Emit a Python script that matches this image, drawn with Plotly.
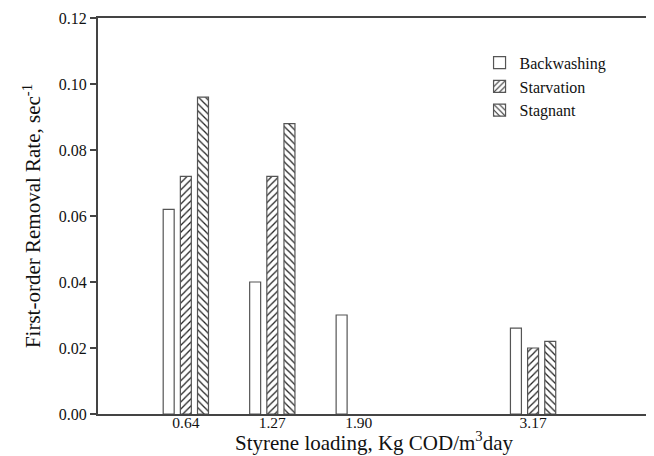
import plotly.graph_objects as go

loadings = [0.64, 1.27, 1.90, 3.17]
tick_labels = ["0.64", "1.27", "1.90", "3.17"]
backwashing = [0.062, 0.040, 0.030, 0.026]
starvation = [0.072, 0.072, None, 0.020]
stagnant = [0.096, 0.088, None, 0.022]

series = [
    ("Backwashing", backwashing, "", -0.125),
    ("Starvation", starvation, "/", 0.0),
    ("Stagnant", stagnant, "\\", 0.125),
]

BAR_W = 0.08
FONT = "Liberation Serif"

fig = go.Figure()
for name, vals, shape, shift in series:
    fig.add_trace(go.Bar(
        x=loadings, y=vals, name=name,
        width=BAR_W, offset=shift - BAR_W / 2,
        marker=dict(
            color="white",
            line=dict(color="#555555", width=1.2),
            pattern=dict(shape=shape, fgcolor="#222222", bgcolor="white",
                         size=5, solidity=0.25, fillmode="replace"),
        ),
    ))

# page body has an 8px default margin, so the figure is sized to fit the window
fig.update_layout(
    width=646, height=448,
    margin=dict(l=90, r=7, t=10, b=42),
    paper_bgcolor="white", plot_bgcolor="white",
    barmode="overlay",
    font=dict(family=FONT, size=16, color="#111111"),
    showlegend=True,
    legend=dict(x=0.695, y=0.93, xanchor="left", yanchor="top",
                bgcolor="rgba(0,0,0,0)", font=dict(size=16, family=FONT),
                tracegroupgap=0),
    xaxis=dict(
        range=[0, 4], tickvals=loadings, ticktext=tick_labels,
        ticks="", showgrid=False, zeroline=False, automargin=False,
        ticklabelstandoff=-7,
        showline=True, linecolor="#444444", linewidth=2, mirror=True,
        tickfont=dict(size=15.5, family=FONT),
    ),
    yaxis=dict(
        range=[0, 0.12], tickvals=[0, 0.02, 0.04, 0.06, 0.08, 0.10, 0.12],
        tickformat=".2f", ticks="outside", ticklen=6, tickwidth=1.5,
        tickcolor="#444444", showgrid=False, zeroline=False, automargin=False,
        showline=True, linecolor="#444444", linewidth=2, mirror=True,
        tickfont=dict(size=16, family=FONT),
        title=dict(text="First-order Removal Rate, sec<sup>-1</sup>",
                   font=dict(size=21, family=FONT), standoff=12),
    ),
    annotations=[dict(
        text="Styrene loading, Kg COD/m<sup>3</sup>day",
        xref="paper", yref="paper", x=0.502, y=0, xanchor="center",
        yanchor="middle", yshift=-27, showarrow=False,
        font=dict(size=21, family=FONT, color="#111111"),
    )],
)

fig.write_html("out.html")
